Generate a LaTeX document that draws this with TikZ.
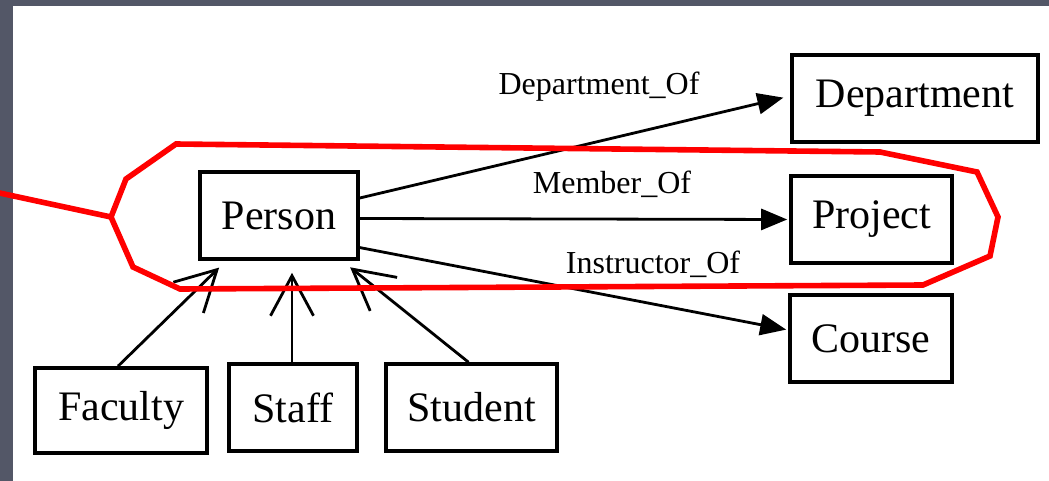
\documentclass[tikz,border=0pt]{standalone}
\usepackage{fontspec}
\setmainfont{Liberation Serif}
\newfontfamily\tnr{Liberation Serif}
\usetikzlibrary{arrows.meta,calc}
\definecolor{slate}{HTML}{535767}
\definecolor{hred}{HTML}{FF0000}
\tikzset{
  ent/.style={draw=black, line width=1.8pt, fill=white, inner sep=0pt,
    minimum height=43.5pt, font=\tnr\fontsize{21}{25}\selectfont},
  rel/.style={line width=1.4pt, -{Triangle[length=13pt,width=10.5pt]}},
  isa/.style={line width=1.4pt, -{Straight Barb[length=20pt,width=21.5pt,line width=1.4pt]}},
  lbl/.style={anchor=base, inner sep=0pt, font=\tnr\fontsize{16}{19}\selectfont},
  hull/.style={draw=hred, line width=2.8pt, line join=miter}
}
\begin{document}
\begin{tikzpicture}[x=0.5pt,y=-0.5pt]
\useasboundingbox (0,0) rectangle (1049,481);
\fill[slate] (0,0) rectangle (1049,481);
\fill[white] (13,6) rectangle (1049,481);

% entities
\node[ent, minimum width=79pt] (Person) at (279,215.5) {Person};
\node[ent, minimum width=123pt] (Department) at (915,98.5) {Department};
\node[ent, minimum width=80.5pt] (Project) at (871.5,219.5) {Project};
\node[ent, minimum width=81pt] (Course) at (871,338.5) {Course};
\node[ent, minimum width=86pt, minimum height=42.5pt] (Faculty) at (121,410.5) {Faculty};
\node[ent, minimum width=64pt] (Staff) at (293,407.5) {Staff};
\node[ent, minimum width=85.5pt] (Student) at (471.5,407.5) {Student};

% relationships
\draw[rel, shorten >=3.5pt] ($(Person.east)+(0,-17.5)$) -- ($(Department.west)+(0,-2.5)$);
\draw[rel, shorten >=1pt] ($(Person.east)+(0,3)$) -- (Project.west);
\draw[rel, shorten >=1pt] ($(Person.east)+(-3,31.5)$) -- ($(Course.west)+(0,-8.5)$);

\node[lbl] (lDept) at (599,95) {Department\_Of};
\node[lbl] (lMem) at (612,193) {Member\_Of};
\node[lbl] (lIns) at (653,273) {Instructor\_Of};

% inheritance
\draw[isa, shorten >=2pt] ($(Faculty.north)+(-3,0)$) -- ($(Person.south)+(-57,4)$);
\draw[isa, shorten >=3pt] ($(Staff.north)+(-1,0)$) -- ($(Person.south)+(13,6)$);
\draw[isa, shorten >=2pt] ($(Student.north)+(-3,0)$) -- ($(Person.south)+(68,4)$);

% red hull
\coordinate (h1) at (176,144);
\coordinate (h2) at (880,152);
\coordinate (h3) at (977,172);
\coordinate (h4) at (998,217);
\coordinate (h5) at (990,256);
\coordinate (h6) at (923,285);
\coordinate (h7) at (180,289);
\coordinate (h8) at (133,267);
\coordinate (h9) at (111,217);
\coordinate (h10) at (126,179);
\coordinate (lineStart) at (-5,192);
\draw[hull] (h1) -- (h2) -- (h3) -- (h4) -- (h5) -- (h6) -- (h7) -- (h8) -- (h9) -- (h10) -- cycle;
\draw[hull] (lineStart) -- (h9);
\end{tikzpicture}
\end{document}
